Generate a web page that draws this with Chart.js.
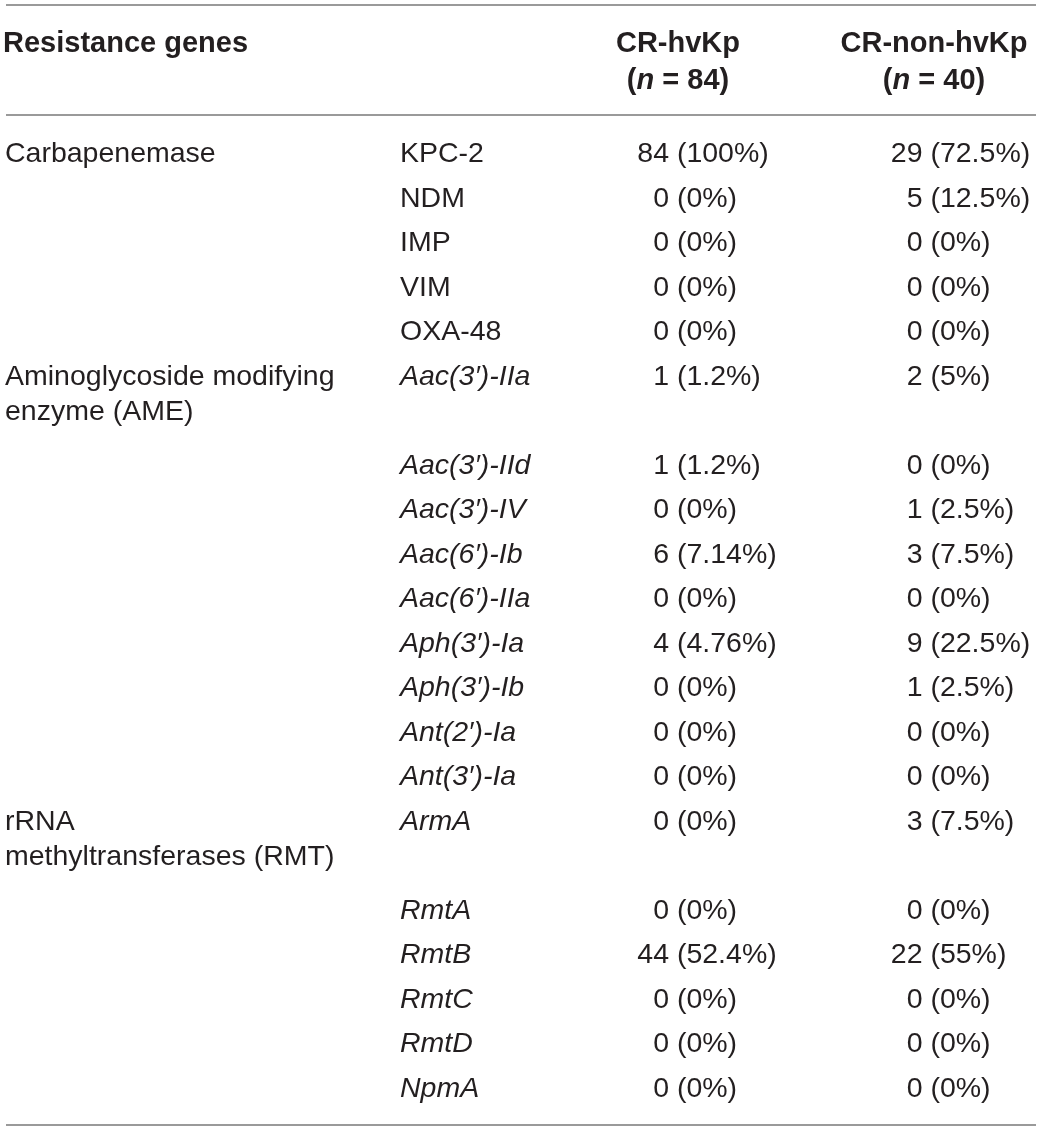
<!DOCTYPE html>
<html><head><meta charset="utf-8">
<script src="https://cdn.jsdelivr.net/npm/chart.js@4/dist/chart.umd.min.js"></script>
<style>html,body{margin:0;padding:0;background:#fff;}#wrap{width:1041px;height:1131px;}</style>
</head><body><div id="wrap"><canvas id="c" width="1041" height="1131"></canvas></div>
<script>
// ---- data ----
const headerLabel = "Resistance genes";
const seriesNames = ["CR-hvKp", "CR-non-hvKp"];
const seriesN = [84, 40];
const groupLabels = [["Carbapenemase"], ["Aminoglycoside modifying", "enzyme (AME)"], ["rRNA", "methyltransferases (RMT)"]];
const groupGeneCounts = [5, 9, 6];
const genes = ["KPC-2", "NDM", "IMP", "VIM", "OXA-48",
  "Aac(3\u2032)-IIa", "Aac(3\u2032)-IId", "Aac(3\u2032)-IV", "Aac(6\u2032)-Ib", "Aac(6\u2032)-IIa",
  "Aph(3\u2032)-Ia", "Aph(3\u2032)-Ib", "Ant(2\u2032)-Ia", "Ant(3\u2032)-Ia",
  "ArmA", "RmtA", "RmtB", "RmtC", "RmtD", "NpmA"];
const geneItalic = [false, false, false, false, false,
  true, true, true, true, true, true, true, true, true,
  true, true, true, true, true, true];
const hvCounts = [84, 0, 0, 0, 0, 1, 1, 0, 6, 0, 4, 0, 0, 0, 0, 0, 44, 0, 0, 0];
const hvPct = ["100%", "0%", "0%", "0%", "0%", "1.2%", "1.2%", "0%", "7.14%", "0%", "4.76%", "0%", "0%", "0%", "0%", "0%", "52.4%", "0%", "0%", "0%"];
const nonCounts = [29, 5, 0, 0, 0, 2, 0, 1, 3, 0, 9, 1, 0, 0, 3, 0, 22, 0, 0, 0];
const nonPct = ["72.5%", "12.5%", "0%", "0%", "0%", "5%", "0%", "2.5%", "7.5%", "0%", "22.5%", "2.5%", "0%", "0%", "7.5%", "0%", "55%", "0%", "0%", "0%"];

// ---- layout (style, not data) ----
const COL = { group: 5, gene: 400, hv: 669, non: 922.5, hvHead: 678, nonHead: 934 };
const FONT = '"Liberation Sans", Arial, Helvetica, sans-serif';
const TEXT = '#231f20';
const RULE = '#9a9a9a';
const SECOND_LINE = 0.8; // second line offset within a cell, in row units

// row positions (in row units) computed from structure
const rowPos = [];
const rowGroup = [];
let cur = 0;
groupGeneCounts.forEach((n, g) => {
  for (let k = 0; k < n; k++) {
    rowPos.push(cur);
    rowGroup.push(k === 0 ? g : -1);
    cur += (k === 0 && groupLabels[g].length > 1) ? 2 : 1;
  }
});
const lastRow = rowPos[rowPos.length - 1];

const mk = (x) => rowPos.map(y => ({ x: x, y: y }));

const tablePlugin = {
  id: 'tablePlugin',
  afterDatasetsDraw(chart) {
    const ctx = chart.ctx;
    const ys = chart.scales.y, xs = chart.scales.x;
    ctx.save();
    ctx.fillStyle = TEXT;
    ctx.textBaseline = 'alphabetic';
    const reg = '28.5px ' + FONT, ita = 'italic 28.5px ' + FONT, bold = 'bold 29px ' + FONT, boldIta = 'italic bold 29px ' + FONT;
    // rules
    ctx.strokeStyle = RULE; ctx.lineWidth = 2;
    [-3.53, -1.056, lastRow + 0.64].forEach(v => {
      const y = Math.round(ys.getPixelForValue(v));
      ctx.beginPath(); ctx.moveTo(xs.getPixelForValue(6), y); ctx.lineTo(xs.getPixelForValue(1036), y); ctx.stroke();
    });
    // header
    const h1 = ys.getPixelForValue(-2.47), h2 = ys.getPixelForValue(-1.65);
    ctx.font = bold; ctx.textAlign = 'left';
    ctx.fillText(headerLabel, xs.getPixelForValue(3), h1);
    const heads = [COL.hvHead, COL.nonHead];
    seriesNames.forEach((s, i) => {
      const cx = xs.getPixelForValue(heads[i]);
      ctx.font = bold; ctx.textAlign = 'center';
      ctx.fillText(s, cx, h1);
      const parts = [['(', bold], ['n', boldIta], [' = ' + seriesN[i] + ')', bold]];
      let w = 0; parts.forEach(p => { ctx.font = p[1]; w += ctx.measureText(p[0]).width; });
      let x = cx - w / 2; ctx.textAlign = 'left';
      parts.forEach(p => { ctx.font = p[1]; ctx.fillText(p[0], x, h2); x += ctx.measureText(p[0]).width; });
    });
    // body
    const metas = [0, 1, 2].map(i => chart.getDatasetMeta(i));
    rowPos.forEach((v, i) => {
      const g = rowGroup[i];
      const geneEl = metas[0].data[i], hvEl = metas[1].data[i], nonEl = metas[2].data[i];
      const y = geneEl.y;
      if (g >= 0) {
        ctx.font = reg; ctx.textAlign = 'left';
        groupLabels[g].forEach((line, li) => {
          ctx.fillText(line, xs.getPixelForValue(COL.group), ys.getPixelForValue(v + li * SECOND_LINE));
        });
      }
      ctx.font = geneItalic[i] ? ita : reg; ctx.textAlign = 'left';
      ctx.fillText(genes[i], geneEl.x, y);
      ctx.font = reg;
      [[hvEl, hvCounts[i], hvPct[i]], [nonEl, nonCounts[i], nonPct[i]]].forEach(c => {
        ctx.textAlign = 'right'; ctx.fillText(String(c[1]), c[0].x, y);
        ctx.textAlign = 'left'; ctx.fillText(' (' + c[2] + ')', c[0].x, y);
      });
    });
    ctx.restore();
  }
};

new Chart(document.getElementById('c'), {
  type: 'scatter',
  data: {
    datasets: [
      { label: 'gene', data: mk(COL.gene), pointRadius: 0 },
      { label: seriesNames[0], data: mk(COL.hv), pointRadius: 0 },
      { label: seriesNames[1], data: mk(COL.non), pointRadius: 0 }
    ]
  },
  options: {
    responsive: false, animation: false, devicePixelRatio: 1,
    layout: { padding: 0 },
    plugins: { legend: { display: false }, tooltip: { enabled: false } },
    scales: {
      x: { type: 'linear', min: 0, max: 1041, display: false },
      y: { type: 'linear', min: -162 / 44.5, max: -162 / 44.5 + 1131 / 44.5, reverse: true, display: false }
    }
  },
  plugins: [tablePlugin]
});
</script></body></html>
